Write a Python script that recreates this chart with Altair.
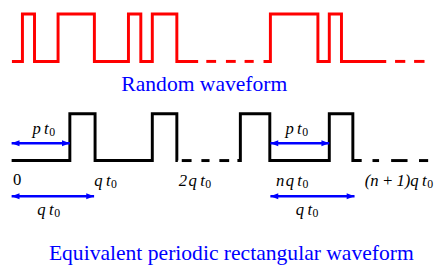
import altair as alt
import pandas as pd

# ---- data (diagram coordinates) ----
# Random waveform (red): pieces given as start, end and the edge times; starts low
RED_LEVELS = [60, 11.7]          # low, high
red_pieces = [
    (12, 201.7, [22.7, 35, 59, 96, 130.7, 143.3, 155, 180]),
    (268.3, 393.3, [275.3, 323.7, 335.3, 347.7]),
]
red_dashes = [(210, 220), (230, 240), (249, 258.3), (402.3, 412.7), (421.7, 432.3)]

# Equivalent periodic waveform (black)
BLACK_LEVELS = [161, 113.3]
black_pieces = [
    (11.7, 181, [71, 96.7, 155, 180]),
    (241.7, 368.3, [244.7, 274.7, 335.3, 359.3]),
]
black_dashes = [(185, 195), (205, 213.3), (223.3, 233.3), (379.3, 386), (398.3, 415), (426.7, 436)]

# Blue double arrows
arrow_x1 = [11.7, 275.3, 11.7, 275.3]
arrow_x2 = [71, 335.3, 95.7, 361]
arrow_y = [143.3, 143.3, 197.3, 197.3]

# Math labels: italic body ending where the upright subscript "0" begins
math_body = ["p\u2009t", "p\u2009t", "q\u2009t", "2\u200aq\u2009t", "n\u200aq\u2009t",
             "(n\u2009+\u20091)q\u2009t", "q\u2009t", "q\u2009t"]
math_sub_x = [50, 307.7, 113, 209, 308, 435, 55, 318.3]
math_base_y = [134, 134, 186.7, 186.7, 186.7, 186.7, 216.7, 216.7]
SUB_DROP = 1.8
zero_label = ["0"]
zero_x = [13]
zero_y = [186]

titles = ["Random waveform", "Equivalent periodic rectangular waveform"]
title_x = [208, 235.5]
title_y = [90, 262]


def step_vertices(pieces, levels, name):
    rows = []
    for pid, (start, end, edges) in enumerate(pieces):
        state = 0
        k = 0
        rows.append(dict(piece=f"{name}{pid}", x=start, y=levels[state], k=k)); k += 1
        for e in edges:
            rows.append(dict(piece=f"{name}{pid}", x=e, y=levels[state], k=k)); k += 1
            state = 1 - state
            rows.append(dict(piece=f"{name}{pid}", x=e, y=levels[state], k=k)); k += 1
        rows.append(dict(piece=f"{name}{pid}", x=end, y=levels[state], k=k)); k += 1
    return rows


X = alt.Scale(domain=[8, 444])
Y = alt.Scale(domain=[266, 8])
SERIF = "Liberation Serif"

red_df = pd.DataFrame(step_vertices(red_pieces, RED_LEVELS, "r"))
black_df = pd.DataFrame(step_vertices(black_pieces, BLACK_LEVELS, "b"))


def line_layer(df, color):
    return alt.Chart(df).mark_line(color=color, strokeWidth=3, strokeJoin="miter", strokeCap="butt").encode(
        x=alt.X("x:Q", scale=X, axis=None),
        y=alt.Y("y:Q", scale=Y, axis=None),
        detail="piece:N",
        order="k:Q",
    )


def dash_layer(dashes, level, color):
    df = pd.DataFrame({"x": [d[0] for d in dashes], "x2": [d[1] for d in dashes], "y": [level] * len(dashes)})
    return alt.Chart(df).mark_rule(color=color, strokeWidth=3, strokeCap="butt").encode(
        x=alt.X("x:Q", scale=X, axis=None), x2="x2:Q", y=alt.Y("y:Q", scale=Y, axis=None)
    )


arr_df = pd.DataFrame({"x1": arrow_x1, "x2": arrow_x2, "y": arrow_y})
arrow_shaft = alt.Chart(arr_df).mark_rule(color="#0000ff", strokeWidth=2.5).encode(
    x=alt.X("x1:Q", scale=X, axis=None), x2="x2:Q", y=alt.Y("y:Q", scale=Y, axis=None)
)
head_right = alt.Chart(arr_df).mark_point(
    shape="M0,0L-2,-0.75L-2,0.75Z", filled=True, color="#0000ff", size=64, opacity=1
).encode(x=alt.X("x2:Q", scale=X, axis=None), y=alt.Y("y:Q", scale=Y, axis=None))
head_left = alt.Chart(arr_df).mark_point(
    shape="M0,0L2,-0.75L2,0.75Z", filled=True, color="#0000ff", size=64, opacity=1
).encode(x=alt.X("x1:Q", scale=X, axis=None), y=alt.Y("y:Q", scale=Y, axis=None))

math_df = pd.DataFrame({"t": math_body, "x": math_sub_x, "y": math_base_y})
math_df["ys"] = math_df["y"] + SUB_DROP
math_df["s"] = "0"
math_main = alt.Chart(math_df).mark_text(font=SERIF, fontSize=17, fontStyle="italic", align="right",
                                         baseline="alphabetic", color="black", dx=-0.5).encode(
    x=alt.X("x:Q", scale=X, axis=None), y=alt.Y("y:Q", scale=Y, axis=None), text="t:N")
math_sub = alt.Chart(math_df).mark_text(font=SERIF, fontSize=12, align="left",
                                        baseline="alphabetic", color="black").encode(
    x=alt.X("x:Q", scale=X, axis=None), y=alt.Y("ys:Q", scale=Y, axis=None), text="s:N")
zero_df = pd.DataFrame({"t": zero_label, "x": zero_x, "y": zero_y})
zero_layer = alt.Chart(zero_df).mark_text(font=SERIF, fontSize=17, align="left",
                                          baseline="alphabetic", color="black").encode(
    x=alt.X("x:Q", scale=X, axis=None), y=alt.Y("y:Q", scale=Y, axis=None), text="t:N")

title_df = pd.DataFrame({"t": titles, "x": title_x, "y": title_y})
title_layer = alt.Chart(title_df).mark_text(font=SERIF, fontSize=22, align="center",
                                            baseline="alphabetic", color="#0000ff").encode(
    x=alt.X("x:Q", scale=X, axis=None), y=alt.Y("y:Q", scale=Y, axis=None), text="t:N")

chart = alt.layer(
    line_layer(red_df, "#ff0000"),
    dash_layer(red_dashes, RED_LEVELS[0], "#ff0000"),
    line_layer(black_df, "black"),
    dash_layer(black_dashes, BLACK_LEVELS[0], "black"),
    arrow_shaft, head_right, head_left,
    math_main, math_sub, zero_layer,
    title_layer,
).properties(width=436, height=258, autosize="none", padding=0).configure_view(stroke=None)

chart.save("out.html", embed_options={"renderer": "svg", "actions": False})
